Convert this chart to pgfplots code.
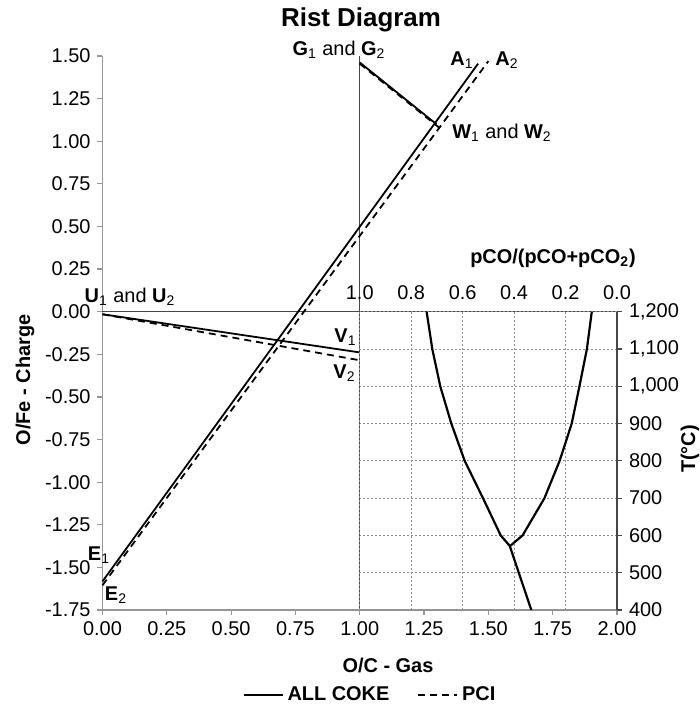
\documentclass[border=0pt]{standalone}
\usepackage{fontspec}
\setmainfont{Liberation Sans}
\usepackage{pgfplots}
\pgfplotsset{compat=1.18}

\definecolor{axgray}{RGB}{150,150,150}
\definecolor{axdark}{RGB}{70,70,70}
\definecolor{gridgray}{RGB}{140,140,140}

% point labels: bold letter, plain subscript
\newcommand{\pl}[2]{\textbf{#1}\textsubscript{#2}}

\begin{document}
\begin{tikzpicture}
\useasboundingbox (-51.25bp,-49.5bp) rectangle (298.75bp,305bp);

% main Rist axis
\begin{axis}[
  name=main, at={(0,0)}, anchor=south west,
  scale only axis, width=257.25bp, height=277bp,
  xmin=0, xmax=2, ymin=-1.75, ymax=1.5,
  axis x line*=bottom, axis y line*=left,
  axis line style={axgray, line width=0.6pt},
  xtick={0,0.25,0.5,0.75,1,1.25,1.5,1.75,2},
  ytick={-1.75,-1.5,-1.25,-1,-0.75,-0.5,-0.25,0,0.25,0.5,0.75,1,1.25,1.5},
  tick align=outside, major tick length=2.5bp,
  tick style={axgray, line width=0.6pt},
  /pgf/number format/assume math mode=true,
  xticklabel style={/pgf/number format/.cd, fixed, fixed zerofill, precision=2},
  yticklabel style={/pgf/number format/.cd, fixed, fixed zerofill, precision=2},
  tick label style={font=\fontsize{10}{12}\selectfont},
  legend style={draw=none, fill=none, at={(0.522,-0.153)}, anchor=center,
    legend columns=2, font=\bfseries\fontsize{10}{12}\selectfont,
    /tikz/every even column/.append style={column sep=12bp}},
  legend image code/.code={\draw[#1] (0bp,0bp) -- (19.5bp,0bp);},
  clip=false,
]
\draw[axdark, line width=0.6pt] (axis cs:0,0) -- (axis cs:2,0);
\draw[axdark, line width=0.6pt] (axis cs:1,-1.75) -- (axis cs:1,1.5);

\addplot[black, line width=0.9pt] coordinates {(0,-1.582) (1.46,1.455)};
\addlegendentry{ALL COKE}
\addplot[black, line width=0.9pt, dash pattern=on 3.5bp off 2.5bp] coordinates {(0,-1.605) (1.50,1.47)};
\addlegendentry{PCI}

\addplot[black, line width=0.9pt, forget plot] coordinates {(1.0,1.462) (1.298,1.100)};
\addplot[black, line width=0.9pt, dash pattern=on 3.5bp off 2.5bp, forget plot] coordinates {(1.0,1.455) (1.311,1.077)};
\addplot[black, line width=0.9pt, forget plot] coordinates {(0,-0.015) (1.0,-0.239)};
\addplot[black, line width=0.9pt, dash pattern=on 3.5bp off 2.5bp, forget plot] coordinates {(0,-0.015) (1.0,-0.285)};
\end{axis}

% Fe-O-C equilibrium inset
\begin{axis}[
  at={(main.south east)}, anchor=south east,
  scale only axis, width=128.625bp, height=149.15bp,
  xmin=0, xmax=1, x dir=reverse, ymin=400, ymax=1200,
  axis x line*=top, axis y line*=right,
  x axis line style={draw=none},
  y axis line style={axdark, line width=0.6pt},
  xtick={0,0.2,0.4,0.6,0.8,1},
  ytick={400,500,600,700,800,900,1000,1100,1200},
  x tick style={draw=none},
  y tick style={axdark, line width=0.6pt},
  tick align=outside, major tick length=2.5bp,
  grid=major, grid style={gridgray, line width=0.4pt, dash pattern=on 1bp off 1bp},
  /pgf/number format/assume math mode=true,
  xticklabel style={/pgf/number format/.cd, fixed, fixed zerofill, precision=1},
  yticklabel style={/pgf/number format/.cd, 1000 sep={,}},
  tick label style={font=\fontsize{10}{12}\selectfont},
]
\addplot[black, line width=1.1pt] coordinates {
  (0.740,1200) (0.718,1100) (0.687,1000) (0.644,900) (0.592,800)
  (0.521,700) (0.452,600) (0.417,572) (0.333,400)};
\addplot[black, line width=1.1pt] coordinates {
  (0.098,1200) (0.117,1100) (0.146,1000) (0.176,900) (0.223,800)
  (0.282,700) (0.367,600) (0.415,572)};
\end{axis}

% texts, placed in reference pixel units
\begin{scope}[x=0.5bp, y=-0.5bp, shift={(-51.25bp,305bp)},
  every node/.style={inner sep=0pt, font=\fontsize{10}{12}\selectfont}]
\node[font=\bfseries\fontsize{13}{15}\selectfont] at (361,20) {Rist Diagram};
\node at (339,50) {\pl{G}{1} and \pl{G}{2}};
\node at (462,60) {\pl{A}{1}};
\node at (507,60) {\pl{A}{2}};
\node at (502,133) {\pl{W}{1} and \pl{W}{2}};
\node at (130,297) {\pl{U}{1} and \pl{U}{2}};
\node at (345.5,337) {\pl{V}{1}};
\node at (344.5,373) {\pl{V}{2}};
\node at (99,555) {\pl{E}{1}};
\node at (116,595) {\pl{E}{2}};
\node[font=\bfseries\fontsize{10}{12}\selectfont] at (388,665) {O/C - Gas};
\node[font=\bfseries\fontsize{10}{12}\selectfont] at (553,258) {pCO/(pCO+pCO\textsubscript{2})};
\node[font=\bfseries\fontsize{10}{12}\selectfont, rotate=90] at (25,380) {O/Fe - Charge};
\node[font=\bfseries\fontsize{10}{12}\selectfont, rotate=90] at (690,449) {T(°C)};
\end{scope}
\end{tikzpicture}
\end{document}
